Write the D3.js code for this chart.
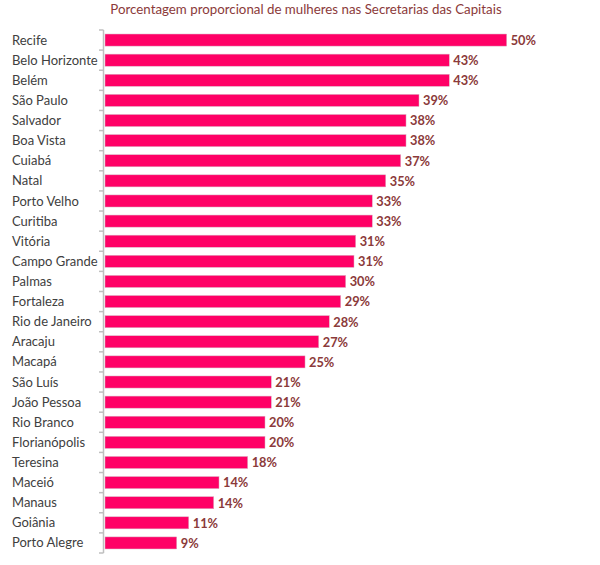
<!DOCTYPE html>
<html><head><meta charset="utf-8">
<script src="https://cdn.jsdelivr.net/npm/d3@7"></script>
<style>body{margin:0;background:#fff}</style>
</head><body>
<svg id="chart" width="600" height="565"></svg>
<script>
const categories = ["Recife","Belo Horizonte","Belém","São Paulo","Salvador","Boa Vista","Cuiabá","Natal","Porto Velho","Curitiba","Vitória","Campo Grande","Palmas","Fortaleza","Rio de Janeiro","Aracaju","Macapá","São Luís","João Pessoa","Rio Branco","Florianópolis","Teresina","Maceió","Manaus","Goiânia","Porto Alegre"];
const values = [50,42.87,42.87,39.11,37.5,37.5,36.84,34.98,33.31,33.31,31.25,31.04,30.01,29.39,27.97,26.66,24.96,20.77,20.77,19.99,19.99,17.84,14.28,13.62,10.52,9.03];
const labels = ["50%","43%","43%","39%","38%","38%","37%","35%","33%","33%","31%","31%","30%","29%","28%","27%","25%","21%","21%","20%","20%","18%","14%","14%","11%","9%"];
const title = "Porcentagem proporcional de mulheres nas Secretarias das Capitais";

const svg = d3.select("#chart");
const font = "Lato, 'Open Sans', sans-serif";
const x = d3.scaleLinear().domain([0,50]).range([104,506.7]);
const y = d3.scaleBand().domain(categories).range([30,553]).paddingInner(0.4).paddingOuter(0.2);

svg.append("text").attr("x",306).attr("y",14).attr("text-anchor","middle")
  .attr("font-family",font).attr("font-size",13.3).attr("fill","#8B3A3A").text(title);

// axis
svg.append("line").attr("x1",103.5).attr("x2",103.5).attr("y1",30).attr("y2",553)
  .attr("stroke","#BFBFBF").attr("stroke-width",1.5);
const bounds = d3.range(categories.length+1).map(i=>30+i*(523/categories.length));
svg.selectAll(".tk").data(bounds).enter().append("line")
  .attr("x1",99).attr("x2",103.5).attr("y1",d=>d).attr("y2",d=>d)
  .attr("stroke","#BFBFBF").attr("stroke-width",1.5);

svg.selectAll(".bar").data(categories).enter().append("rect")
  .attr("x",x(0)+1).attr("y",d=>y(d)).attr("height",y.bandwidth())
  .attr("width",(d,i)=>x(values[i])-x(0)-1)
  .attr("fill","#FF0066").attr("stroke","#D9B3C4").attr("stroke-width",0.5);

svg.selectAll(".cat").data(categories).enter().append("text")
  .attr("x",12).attr("y",d=>y(d)+y.bandwidth()/2).attr("dy","0.35em")
  .attr("font-family",font).attr("font-size",13).attr("fill","#404040").text(d=>d);

svg.selectAll(".val").data(categories).enter().append("text")
  .attr("x",(d,i)=>x(values[i])+4).attr("y",d=>y(d)+y.bandwidth()/2).attr("dy","0.38em")
  .attr("font-family",font).attr("font-size",12.8).attr("font-weight","bold").attr("fill","#8B3A3A")
  .text((d,i)=>labels[i]);
</script>
</body></html>
